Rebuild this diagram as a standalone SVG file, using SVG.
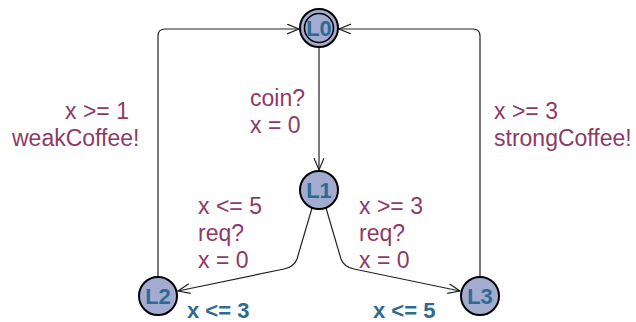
<svg xmlns="http://www.w3.org/2000/svg" width="636" height="322" viewBox="0 0 636 322">
<style>
.loc circle{fill:#a3acd0;stroke:#000;stroke-width:2}
.name{font-family:"Liberation Sans",Arial,sans-serif;font-weight:bold;font-size:22px;fill:#2f6a90;text-anchor:middle}
.lbl{font-family:"Liberation Sans",Arial,sans-serif;font-size:23px;fill:#8e3a67}
.inv{font-family:"Liberation Sans",Arial,sans-serif;font-weight:bold;font-size:22px;fill:#2f6a90}
.edge{fill:none;stroke:#222;stroke-width:1.2}
</style>
<defs>
<marker id="arr" markerUnits="userSpaceOnUse" markerWidth="14" markerHeight="12" refX="12" refY="5" orient="auto">
<path d="M0,0 L12,5 L0,10" fill="none" stroke="#222" stroke-width="1.2"/>
</marker>
</defs>
<rect width="636" height="322" fill="#fff"/>
<g id="connectors">
<path class="edge" d="M319,48 L319,170" marker-end="url(#arr)"/>
<path class="edge" d="M312,208 L297,259 Q294,267 284,269 L178,291" marker-end="url(#arr)"/>
<path class="edge" d="M326,208 L341,259 Q344,267 354,269 L460,291" marker-end="url(#arr)"/>
<path class="edge" d="M158,277 L158,36 Q158,29 165,29 L299,29" marker-end="url(#arr)"/>
<path class="edge" d="M480,276 L480,36 Q480,29 473,29 L339,29" marker-end="url(#arr)"/>
</g>
<g id="labels">
<text class="lbl" x="250" y="106">coin?</text>
<text class="lbl" x="250" y="133">x = 0</text>
<text class="lbl" x="65" y="119">x &gt;= 1</text>
<text class="lbl" x="12" y="146">weakCoffee!</text>
<text class="lbl" x="494" y="119">x &gt;= 3</text>
<text class="lbl" x="494" y="146">strongCoffee!</text>
<text class="lbl" x="198" y="214">x &lt;= 5</text>
<text class="lbl" x="198" y="241">req?</text>
<text class="lbl" x="198" y="268">x = 0</text>
<text class="lbl" x="359" y="214">x &gt;= 3</text>
<text class="lbl" x="359" y="241">req?</text>
<text class="lbl" x="359" y="268">x = 0</text>
</g>
<g id="L0" class="loc">
<circle cx="319" cy="28" r="19"/>
<circle cx="319" cy="28" r="14.5" style="fill:none;stroke-width:1.6"/>
<text class="name" x="319" y="36">L0</text>
</g>
<g id="L1" class="loc">
<circle cx="319" cy="190" r="19"/>
<text class="name" x="319" y="198">L1</text>
</g>
<g id="L2" class="loc">
<circle cx="158" cy="296" r="19"/>
<text class="name" x="158" y="304">L2</text>
<text class="inv" x="187" y="318">x &lt;= 3</text>
</g>
<g id="L3" class="loc">
<circle cx="480" cy="296" r="19"/>
<text class="name" x="480" y="304">L3</text>
<text class="inv" x="373" y="318">x &lt;= 5</text>
</g>
</svg>
